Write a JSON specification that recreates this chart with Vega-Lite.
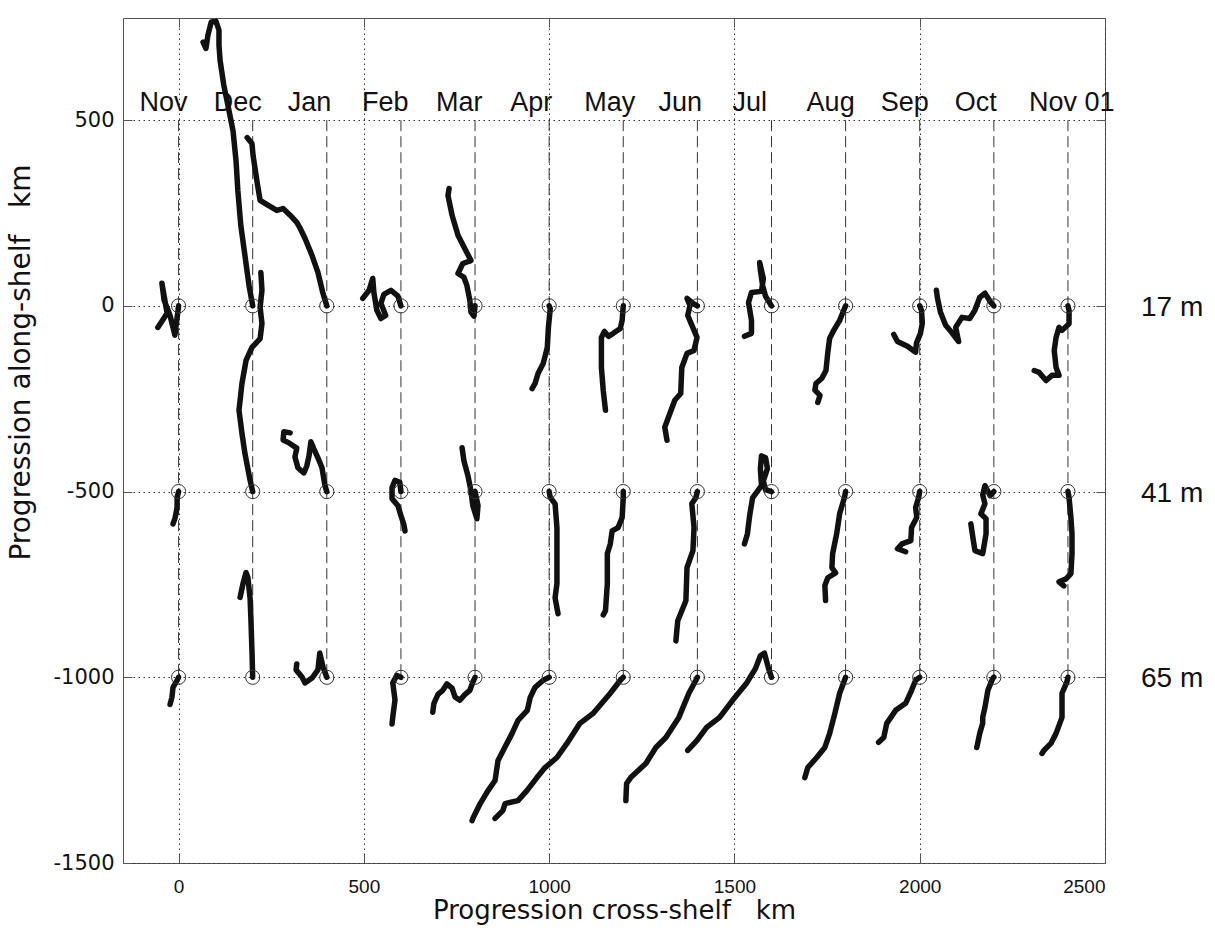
{
  "$schema": "https://vega.github.io/schema/vega-lite/v6.json",
  "width": 982,
  "height": 845,
  "autosize": {"type": "none"},
  "padding": {"left": 123, "top": 18, "right": 110, "bottom": 71},
  "background": "white",
  "config": {
    "view": {"stroke": "#555", "strokeWidth": 1},
    "axis": {"domain": false, "tickColor": "#555", "labelColor": "#111", "titleColor": "#111", "titleFontWeight": "normal"}
  },
  "datasets": {
    "stations": [
      {"m": "Nov", "x": 0, "d": "17 m", "y": 0}, {"m": "Nov", "x": 0, "d": "41 m", "y": -500}, {"m": "Nov", "x": 0, "d": "65 m", "y": -1000},
      {"m": "Dec", "x": 200, "d": "17 m", "y": 0}, {"m": "Dec", "x": 200, "d": "41 m", "y": -500}, {"m": "Dec", "x": 200, "d": "65 m", "y": -1000},
      {"m": "Jan", "x": 400, "d": "17 m", "y": 0}, {"m": "Jan", "x": 400, "d": "41 m", "y": -500}, {"m": "Jan", "x": 400, "d": "65 m", "y": -1000},
      {"m": "Feb", "x": 600, "d": "17 m", "y": 0}, {"m": "Feb", "x": 600, "d": "41 m", "y": -500}, {"m": "Feb", "x": 600, "d": "65 m", "y": -1000},
      {"m": "Mar", "x": 800, "d": "17 m", "y": 0}, {"m": "Mar", "x": 800, "d": "41 m", "y": -500}, {"m": "Mar", "x": 800, "d": "65 m", "y": -1000},
      {"m": "Apr", "x": 1000, "d": "17 m", "y": 0}, {"m": "Apr", "x": 1000, "d": "41 m", "y": -500}, {"m": "Apr", "x": 1000, "d": "65 m", "y": -1000},
      {"m": "May", "x": 1200, "d": "17 m", "y": 0}, {"m": "May", "x": 1200, "d": "41 m", "y": -500}, {"m": "May", "x": 1200, "d": "65 m", "y": -1000},
      {"m": "Jun", "x": 1400, "d": "17 m", "y": 0}, {"m": "Jun", "x": 1400, "d": "41 m", "y": -500}, {"m": "Jun", "x": 1400, "d": "65 m", "y": -1000},
      {"m": "Jul", "x": 1600, "d": "17 m", "y": 0}, {"m": "Jul", "x": 1600, "d": "41 m", "y": -500}, {"m": "Jul", "x": 1600, "d": "65 m", "y": -1000},
      {"m": "Aug", "x": 1800, "d": "17 m", "y": 0}, {"m": "Aug", "x": 1800, "d": "41 m", "y": -500}, {"m": "Aug", "x": 1800, "d": "65 m", "y": -1000},
      {"m": "Sep", "x": 2000, "d": "17 m", "y": 0}, {"m": "Sep", "x": 2000, "d": "41 m", "y": -500}, {"m": "Sep", "x": 2000, "d": "65 m", "y": -1000},
      {"m": "Oct", "x": 2200, "d": "17 m", "y": 0}, {"m": "Oct", "x": 2200, "d": "41 m", "y": -500}, {"m": "Oct", "x": 2200, "d": "65 m", "y": -1000},
      {"m": "Nov 01", "x": 2400, "d": "17 m", "y": 0}, {"m": "Nov 01", "x": 2400, "d": "41 m", "y": -500}, {"m": "Nov 01", "x": 2400, "d": "65 m", "y": -1000}
    ],
    "depths": [
      {"d": "17 m", "y": 0}, {"d": "41 m", "y": -500}, {"d": "65 m", "y": -1000}
    ],
    "tracks": [
      {"t": "Nov-17", "k": 0, "x": 0, "y": 0}, {"t": "Nov-17", "k": 1, "x": -10, "y": -79}, {"t": "Nov-17", "k": 2, "x": -23, "y": -26}, {"t": "Nov-17", "k": 3, "x": -39, "y": 15}, {"t": "Nov-17", "k": 4, "x": -45, "y": 61}, {"t": "Nov-17", "k": 5, "x": -37, "y": 15}, {"t": "Nov-17", "k": 6, "x": -31, "y": -20}, {"t": "Nov-17", "k": 7, "x": -56, "y": -58},

      {"t": "Dec-17", "k": 0, "x": 200, "y": 0}, {"t": "Dec-17", "k": 1, "x": 190, "y": 55}, {"t": "Dec-17", "k": 2, "x": 179, "y": 136}, {"t": "Dec-17", "k": 3, "x": 168, "y": 216}, {"t": "Dec-17", "k": 4, "x": 160, "y": 310}, {"t": "Dec-17", "k": 5, "x": 155, "y": 391}, {"t": "Dec-17", "k": 6, "x": 147, "y": 471}, {"t": "Dec-17", "k": 7, "x": 136, "y": 526}, {"t": "Dec-17", "k": 8, "x": 122, "y": 594}, {"t": "Dec-17", "k": 9, "x": 112, "y": 661}, {"t": "Dec-17", "k": 10, "x": 109, "y": 702}, {"t": "Dec-17", "k": 11, "x": 109, "y": 742}, {"t": "Dec-17", "k": 12, "x": 101, "y": 766}, {"t": "Dec-17", "k": 13, "x": 88, "y": 764}, {"t": "Dec-17", "k": 14, "x": 79, "y": 728}, {"t": "Dec-17", "k": 15, "x": 74, "y": 693}, {"t": "Dec-17", "k": 16, "x": 66, "y": 710},

      {"t": "Jan-17", "k": 0, "x": 400, "y": 0}, {"t": "Jan-17", "k": 1, "x": 389, "y": 36}, {"t": "Jan-17", "k": 2, "x": 376, "y": 90}, {"t": "Jan-17", "k": 3, "x": 360, "y": 136}, {"t": "Jan-17", "k": 4, "x": 341, "y": 182}, {"t": "Jan-17", "k": 5, "x": 328, "y": 209}, {"t": "Jan-17", "k": 6, "x": 319, "y": 225}, {"t": "Jan-17", "k": 7, "x": 301, "y": 244}, {"t": "Jan-17", "k": 8, "x": 282, "y": 262}, {"t": "Jan-17", "k": 9, "x": 265, "y": 257}, {"t": "Jan-17", "k": 10, "x": 241, "y": 271}, {"t": "Jan-17", "k": 11, "x": 220, "y": 284}, {"t": "Jan-17", "k": 12, "x": 212, "y": 332}, {"t": "Jan-17", "k": 13, "x": 201, "y": 405}, {"t": "Jan-17", "k": 14, "x": 198, "y": 437}, {"t": "Jan-17", "k": 15, "x": 185, "y": 453},

      {"t": "Feb-17", "k": 0, "x": 600, "y": 0}, {"t": "Feb-17", "k": 1, "x": 592, "y": 26}, {"t": "Feb-17", "k": 2, "x": 573, "y": 42}, {"t": "Feb-17", "k": 3, "x": 554, "y": 31}, {"t": "Feb-17", "k": 4, "x": 546, "y": 7}, {"t": "Feb-17", "k": 5, "x": 559, "y": -26}, {"t": "Feb-17", "k": 6, "x": 546, "y": -34}, {"t": "Feb-17", "k": 7, "x": 535, "y": -12}, {"t": "Feb-17", "k": 8, "x": 527, "y": 36}, {"t": "Feb-17", "k": 9, "x": 524, "y": 74}, {"t": "Feb-17", "k": 10, "x": 514, "y": 42}, {"t": "Feb-17", "k": 11, "x": 497, "y": 20},

      {"t": "Mar-17", "k": 0, "x": 800, "y": 0}, {"t": "Mar-17", "k": 1, "x": 797, "y": -28}, {"t": "Mar-17", "k": 2, "x": 789, "y": -17}, {"t": "Mar-17", "k": 3, "x": 786, "y": 15}, {"t": "Mar-17", "k": 4, "x": 778, "y": 55}, {"t": "Mar-17", "k": 5, "x": 770, "y": 77}, {"t": "Mar-17", "k": 6, "x": 754, "y": 87}, {"t": "Mar-17", "k": 7, "x": 767, "y": 114}, {"t": "Mar-17", "k": 8, "x": 789, "y": 122}, {"t": "Mar-17", "k": 9, "x": 775, "y": 149}, {"t": "Mar-17", "k": 10, "x": 754, "y": 190}, {"t": "Mar-17", "k": 11, "x": 738, "y": 244}, {"t": "Mar-17", "k": 12, "x": 727, "y": 297}, {"t": "Mar-17", "k": 13, "x": 730, "y": 316},

      {"t": "Apr-17", "k": 0, "x": 1000, "y": 0}, {"t": "Apr-17", "k": 1, "x": 1003, "y": -7}, {"t": "Apr-17", "k": 2, "x": 998, "y": -58}, {"t": "Apr-17", "k": 3, "x": 995, "y": -112}, {"t": "Apr-17", "k": 4, "x": 984, "y": -155}, {"t": "Apr-17", "k": 5, "x": 970, "y": -182}, {"t": "Apr-17", "k": 6, "x": 962, "y": -209}, {"t": "Apr-17", "k": 7, "x": 954, "y": -223},

      {"t": "May-17", "k": 0, "x": 1200, "y": 0}, {"t": "May-17", "k": 1, "x": 1197, "y": -39}, {"t": "May-17", "k": 2, "x": 1192, "y": -61}, {"t": "May-17", "k": 3, "x": 1173, "y": -74}, {"t": "May-17", "k": 4, "x": 1160, "y": -82}, {"t": "May-17", "k": 5, "x": 1149, "y": -69}, {"t": "May-17", "k": 6, "x": 1141, "y": -85}, {"t": "May-17", "k": 7, "x": 1141, "y": -166}, {"t": "May-17", "k": 8, "x": 1146, "y": -228}, {"t": "May-17", "k": 9, "x": 1152, "y": -281},

      {"t": "Jun-17", "k": 0, "x": 1400, "y": 0}, {"t": "Jun-17", "k": 1, "x": 1388, "y": 7}, {"t": "Jun-17", "k": 2, "x": 1372, "y": 20}, {"t": "Jun-17", "k": 3, "x": 1380, "y": 1}, {"t": "Jun-17", "k": 4, "x": 1374, "y": -26}, {"t": "Jun-17", "k": 5, "x": 1385, "y": -52}, {"t": "Jun-17", "k": 6, "x": 1399, "y": -85}, {"t": "Jun-17", "k": 7, "x": 1391, "y": -120}, {"t": "Jun-17", "k": 8, "x": 1372, "y": -128}, {"t": "Jun-17", "k": 9, "x": 1358, "y": -166}, {"t": "Jun-17", "k": 10, "x": 1355, "y": -236}, {"t": "Jun-17", "k": 11, "x": 1339, "y": -254}, {"t": "Jun-17", "k": 12, "x": 1326, "y": -289}, {"t": "Jun-17", "k": 13, "x": 1312, "y": -327}, {"t": "Jun-17", "k": 14, "x": 1318, "y": -362},

      {"t": "Jul-17", "k": 0, "x": 1600, "y": 0}, {"t": "Jul-17", "k": 1, "x": 1584, "y": 26}, {"t": "Jul-17", "k": 2, "x": 1576, "y": 55}, {"t": "Jul-17", "k": 3, "x": 1570, "y": 96}, {"t": "Jul-17", "k": 4, "x": 1568, "y": 117}, {"t": "Jul-17", "k": 5, "x": 1578, "y": 74}, {"t": "Jul-17", "k": 6, "x": 1573, "y": 39}, {"t": "Jul-17", "k": 7, "x": 1546, "y": 36}, {"t": "Jul-17", "k": 8, "x": 1538, "y": 9}, {"t": "Jul-17", "k": 9, "x": 1546, "y": -39}, {"t": "Jul-17", "k": 10, "x": 1546, "y": -74}, {"t": "Jul-17", "k": 11, "x": 1527, "y": -82},

      {"t": "Aug-17", "k": 0, "x": 1800, "y": 0}, {"t": "Aug-17", "k": 1, "x": 1795, "y": -12}, {"t": "Aug-17", "k": 2, "x": 1784, "y": -39}, {"t": "Aug-17", "k": 3, "x": 1768, "y": -66}, {"t": "Aug-17", "k": 4, "x": 1757, "y": -87}, {"t": "Aug-17", "k": 5, "x": 1752, "y": -125}, {"t": "Aug-17", "k": 6, "x": 1747, "y": -174}, {"t": "Aug-17", "k": 7, "x": 1736, "y": -195}, {"t": "Aug-17", "k": 8, "x": 1720, "y": -209}, {"t": "Aug-17", "k": 9, "x": 1717, "y": -227}, {"t": "Aug-17", "k": 10, "x": 1731, "y": -241}, {"t": "Aug-17", "k": 11, "x": 1725, "y": -260},

      {"t": "Sep-17", "k": 0, "x": 2000, "y": 0}, {"t": "Sep-17", "k": 1, "x": 2005, "y": -13}, {"t": "Sep-17", "k": 2, "x": 2007, "y": -47}, {"t": "Sep-17", "k": 3, "x": 2002, "y": -74}, {"t": "Sep-17", "k": 4, "x": 1991, "y": -101}, {"t": "Sep-17", "k": 5, "x": 1989, "y": -125}, {"t": "Sep-17", "k": 6, "x": 1967, "y": -109}, {"t": "Sep-17", "k": 7, "x": 1940, "y": -96}, {"t": "Sep-17", "k": 8, "x": 1930, "y": -77},

      {"t": "Oct-17", "k": 0, "x": 2200, "y": 0}, {"t": "Oct-17", "k": 1, "x": 2192, "y": 9}, {"t": "Oct-17", "k": 2, "x": 2176, "y": 34}, {"t": "Oct-17", "k": 3, "x": 2162, "y": 23}, {"t": "Oct-17", "k": 4, "x": 2149, "y": -12}, {"t": "Oct-17", "k": 5, "x": 2135, "y": -34}, {"t": "Oct-17", "k": 6, "x": 2114, "y": -31}, {"t": "Oct-17", "k": 7, "x": 2097, "y": -58}, {"t": "Oct-17", "k": 8, "x": 2105, "y": -96}, {"t": "Oct-17", "k": 9, "x": 2086, "y": -71}, {"t": "Oct-17", "k": 10, "x": 2070, "y": -52}, {"t": "Oct-17", "k": 11, "x": 2056, "y": -17}, {"t": "Oct-17", "k": 12, "x": 2048, "y": 20}, {"t": "Oct-17", "k": 13, "x": 2045, "y": 42},

      {"t": "Nov01-17", "k": 0, "x": 2400, "y": 0}, {"t": "Nov01-17", "k": 1, "x": 2403, "y": -12}, {"t": "Nov01-17", "k": 2, "x": 2403, "y": -48}, {"t": "Nov01-17", "k": 3, "x": 2384, "y": -66}, {"t": "Nov01-17", "k": 4, "x": 2376, "y": -58}, {"t": "Nov01-17", "k": 5, "x": 2368, "y": -85}, {"t": "Nov01-17", "k": 6, "x": 2363, "y": -120}, {"t": "Nov01-17", "k": 7, "x": 2368, "y": -166}, {"t": "Nov01-17", "k": 8, "x": 2376, "y": -187}, {"t": "Nov01-17", "k": 9, "x": 2357, "y": -187}, {"t": "Nov01-17", "k": 10, "x": 2341, "y": -201}, {"t": "Nov01-17", "k": 11, "x": 2322, "y": -179}, {"t": "Nov01-17", "k": 12, "x": 2309, "y": -174},

      {"t": "Nov-41", "k": 0, "x": 0, "y": -500}, {"t": "Nov-41", "k": 1, "x": -4, "y": -516}, {"t": "Nov-41", "k": 2, "x": -4, "y": -543}, {"t": "Nov-41", "k": 3, "x": -10, "y": -573}, {"t": "Nov-41", "k": 4, "x": -15, "y": -587},

      {"t": "Dec-41", "k": 0, "x": 200, "y": -500}, {"t": "Dec-41", "k": 1, "x": 193, "y": -470}, {"t": "Dec-41", "k": 2, "x": 179, "y": -397}, {"t": "Dec-41", "k": 3, "x": 171, "y": -343}, {"t": "Dec-41", "k": 4, "x": 163, "y": -281}, {"t": "Dec-41", "k": 5, "x": 171, "y": -209}, {"t": "Dec-41", "k": 6, "x": 182, "y": -147}, {"t": "Dec-41", "k": 7, "x": 198, "y": -112}, {"t": "Dec-41", "k": 8, "x": 220, "y": -88}, {"t": "Dec-41", "k": 9, "x": 225, "y": -47}, {"t": "Dec-41", "k": 10, "x": 220, "y": -4}, {"t": "Dec-41", "k": 11, "x": 225, "y": 42}, {"t": "Dec-41", "k": 12, "x": 222, "y": 90},

      {"t": "Jan-41", "k": 0, "x": 400, "y": -500}, {"t": "Jan-41", "k": 1, "x": 395, "y": -484}, {"t": "Jan-41", "k": 2, "x": 387, "y": -436}, {"t": "Jan-41", "k": 3, "x": 376, "y": -409}, {"t": "Jan-41", "k": 4, "x": 365, "y": -385}, {"t": "Jan-41", "k": 5, "x": 357, "y": -366}, {"t": "Jan-41", "k": 6, "x": 352, "y": -404}, {"t": "Jan-41", "k": 7, "x": 346, "y": -431}, {"t": "Jan-41", "k": 8, "x": 338, "y": -450}, {"t": "Jan-41", "k": 9, "x": 322, "y": -436}, {"t": "Jan-41", "k": 10, "x": 314, "y": -407}, {"t": "Jan-41", "k": 11, "x": 319, "y": -383}, {"t": "Jan-41", "k": 12, "x": 298, "y": -369}, {"t": "Jan-41", "k": 13, "x": 282, "y": -361}, {"t": "Jan-41", "k": 14, "x": 284, "y": -339}, {"t": "Jan-41", "k": 15, "x": 301, "y": -342},

      {"t": "Feb-41", "k": 0, "x": 600, "y": -500}, {"t": "Feb-41", "k": 1, "x": 597, "y": -475}, {"t": "Feb-41", "k": 2, "x": 584, "y": -470}, {"t": "Feb-41", "k": 3, "x": 576, "y": -489}, {"t": "Feb-41", "k": 4, "x": 576, "y": -519}, {"t": "Feb-41", "k": 5, "x": 592, "y": -538}, {"t": "Feb-41", "k": 6, "x": 600, "y": -565}, {"t": "Feb-41", "k": 7, "x": 608, "y": -589}, {"t": "Feb-41", "k": 8, "x": 611, "y": -606},

      {"t": "Mar-41", "k": 0, "x": 800, "y": -500}, {"t": "Mar-41", "k": 1, "x": 808, "y": -538}, {"t": "Mar-41", "k": 2, "x": 805, "y": -573}, {"t": "Mar-41", "k": 3, "x": 794, "y": -538}, {"t": "Mar-41", "k": 4, "x": 789, "y": -498}, {"t": "Mar-41", "k": 5, "x": 781, "y": -458}, {"t": "Mar-41", "k": 6, "x": 770, "y": -417}, {"t": "Mar-41", "k": 7, "x": 765, "y": -382},

      {"t": "Apr-41", "k": 0, "x": 1000, "y": -500}, {"t": "Apr-41", "k": 1, "x": 1003, "y": -516}, {"t": "Apr-41", "k": 2, "x": 1016, "y": -533}, {"t": "Apr-41", "k": 3, "x": 1021, "y": -597}, {"t": "Apr-41", "k": 4, "x": 1021, "y": -667}, {"t": "Apr-41", "k": 5, "x": 1021, "y": -748}, {"t": "Apr-41", "k": 6, "x": 1016, "y": -786}, {"t": "Apr-41", "k": 7, "x": 1024, "y": -829},

      {"t": "May-41", "k": 0, "x": 1200, "y": -500}, {"t": "May-41", "k": 1, "x": 1200, "y": -516}, {"t": "May-41", "k": 2, "x": 1197, "y": -570}, {"t": "May-41", "k": 3, "x": 1186, "y": -597}, {"t": "May-41", "k": 4, "x": 1170, "y": -606}, {"t": "May-41", "k": 5, "x": 1165, "y": -641}, {"t": "May-41", "k": 6, "x": 1157, "y": -667}, {"t": "May-41", "k": 7, "x": 1157, "y": -748}, {"t": "May-41", "k": 8, "x": 1152, "y": -821}, {"t": "May-41", "k": 9, "x": 1146, "y": -832},

      {"t": "Jun-41", "k": 0, "x": 1400, "y": -500}, {"t": "Jun-41", "k": 1, "x": 1396, "y": -516}, {"t": "Jun-41", "k": 2, "x": 1385, "y": -533}, {"t": "Jun-41", "k": 3, "x": 1391, "y": -597}, {"t": "Jun-41", "k": 4, "x": 1388, "y": -659}, {"t": "Jun-41", "k": 5, "x": 1372, "y": -705}, {"t": "Jun-41", "k": 6, "x": 1369, "y": -794}, {"t": "Jun-41", "k": 7, "x": 1347, "y": -848}, {"t": "Jun-41", "k": 8, "x": 1342, "y": -902},

      {"t": "Jul-41", "k": 0, "x": 1600, "y": -500}, {"t": "Jul-41", "k": 1, "x": 1584, "y": -495}, {"t": "Jul-41", "k": 2, "x": 1578, "y": -471}, {"t": "Jul-41", "k": 3, "x": 1589, "y": -438}, {"t": "Jul-41", "k": 4, "x": 1584, "y": -409}, {"t": "Jul-41", "k": 5, "x": 1573, "y": -404}, {"t": "Jul-41", "k": 6, "x": 1570, "y": -438}, {"t": "Jul-41", "k": 7, "x": 1573, "y": -484}, {"t": "Jul-41", "k": 8, "x": 1549, "y": -517}, {"t": "Jul-41", "k": 9, "x": 1541, "y": -565}, {"t": "Jul-41", "k": 10, "x": 1535, "y": -614}, {"t": "Jul-41", "k": 11, "x": 1527, "y": -641},

      {"t": "Aug-41", "k": 0, "x": 1800, "y": -500}, {"t": "Aug-41", "k": 1, "x": 1797, "y": -516}, {"t": "Aug-41", "k": 2, "x": 1784, "y": -559}, {"t": "Aug-41", "k": 3, "x": 1776, "y": -613}, {"t": "Aug-41", "k": 4, "x": 1765, "y": -667}, {"t": "Aug-41", "k": 5, "x": 1763, "y": -705}, {"t": "Aug-41", "k": 6, "x": 1773, "y": -719}, {"t": "Aug-41", "k": 7, "x": 1752, "y": -732}, {"t": "Aug-41", "k": 8, "x": 1744, "y": -753}, {"t": "Aug-41", "k": 9, "x": 1746, "y": -793},

      {"t": "Sep-41", "k": 0, "x": 2000, "y": -500}, {"t": "Sep-41", "k": 1, "x": 1997, "y": -516}, {"t": "Sep-41", "k": 2, "x": 1989, "y": -543}, {"t": "Sep-41", "k": 3, "x": 1992, "y": -570}, {"t": "Sep-41", "k": 4, "x": 1978, "y": -597}, {"t": "Sep-41", "k": 5, "x": 1976, "y": -632}, {"t": "Sep-41", "k": 6, "x": 1952, "y": -641}, {"t": "Sep-41", "k": 7, "x": 1940, "y": -654}, {"t": "Sep-41", "k": 8, "x": 1962, "y": -662},

      {"t": "Oct-41", "k": 0, "x": 2200, "y": -500}, {"t": "Oct-41", "k": 1, "x": 2190, "y": -511}, {"t": "Oct-41", "k": 2, "x": 2176, "y": -484}, {"t": "Oct-41", "k": 3, "x": 2170, "y": -509}, {"t": "Oct-41", "k": 4, "x": 2176, "y": -533}, {"t": "Oct-41", "k": 5, "x": 2165, "y": -560}, {"t": "Oct-41", "k": 6, "x": 2179, "y": -573}, {"t": "Oct-41", "k": 7, "x": 2179, "y": -614}, {"t": "Oct-41", "k": 8, "x": 2170, "y": -667}, {"t": "Oct-41", "k": 9, "x": 2149, "y": -659}, {"t": "Oct-41", "k": 10, "x": 2144, "y": -627}, {"t": "Oct-41", "k": 11, "x": 2138, "y": -587},

      {"t": "Nov01-41", "k": 0, "x": 2400, "y": -500}, {"t": "Nov01-41", "k": 1, "x": 2403, "y": -516}, {"t": "Nov01-41", "k": 2, "x": 2408, "y": -570}, {"t": "Nov01-41", "k": 3, "x": 2411, "y": -614}, {"t": "Nov01-41", "k": 4, "x": 2411, "y": -667}, {"t": "Nov01-41", "k": 5, "x": 2408, "y": -721}, {"t": "Nov01-41", "k": 6, "x": 2395, "y": -735}, {"t": "Nov01-41", "k": 7, "x": 2376, "y": -743}, {"t": "Nov01-41", "k": 8, "x": 2389, "y": -754},

      {"t": "Nov-65", "k": 0, "x": 0, "y": -1000}, {"t": "Nov-65", "k": 1, "x": -4, "y": -1008}, {"t": "Nov-65", "k": 2, "x": -15, "y": -1027}, {"t": "Nov-65", "k": 3, "x": -18, "y": -1054}, {"t": "Nov-65", "k": 4, "x": -23, "y": -1073},

      {"t": "Dec-65", "k": 0, "x": 200, "y": -1000}, {"t": "Dec-65", "k": 1, "x": 198, "y": -928}, {"t": "Dec-65", "k": 2, "x": 195, "y": -839}, {"t": "Dec-65", "k": 3, "x": 193, "y": -788}, {"t": "Dec-65", "k": 4, "x": 187, "y": -731}, {"t": "Dec-65", "k": 5, "x": 182, "y": -718}, {"t": "Dec-65", "k": 6, "x": 174, "y": -747}, {"t": "Dec-65", "k": 7, "x": 166, "y": -785},

      {"t": "Jan-65", "k": 0, "x": 400, "y": -1000}, {"t": "Jan-65", "k": 1, "x": 390, "y": -973}, {"t": "Jan-65", "k": 2, "x": 381, "y": -935}, {"t": "Jan-65", "k": 3, "x": 376, "y": -980}, {"t": "Jan-65", "k": 4, "x": 360, "y": -1002}, {"t": "Jan-65", "k": 5, "x": 341, "y": -1015}, {"t": "Jan-65", "k": 6, "x": 333, "y": -999}, {"t": "Jan-65", "k": 7, "x": 317, "y": -980}, {"t": "Jan-65", "k": 8, "x": 319, "y": -964},

      {"t": "Feb-65", "k": 0, "x": 600, "y": -1000}, {"t": "Feb-65", "k": 1, "x": 589, "y": -995}, {"t": "Feb-65", "k": 2, "x": 578, "y": -1015}, {"t": "Feb-65", "k": 3, "x": 584, "y": -1061}, {"t": "Feb-65", "k": 4, "x": 578, "y": -1107}, {"t": "Feb-65", "k": 5, "x": 576, "y": -1126},

      {"t": "Mar-65", "k": 0, "x": 800, "y": -1000}, {"t": "Mar-65", "k": 1, "x": 794, "y": -1013}, {"t": "Mar-65", "k": 2, "x": 786, "y": -1035}, {"t": "Mar-65", "k": 3, "x": 773, "y": -1046}, {"t": "Mar-65", "k": 4, "x": 759, "y": -1062}, {"t": "Mar-65", "k": 5, "x": 746, "y": -1053}, {"t": "Mar-65", "k": 6, "x": 738, "y": -1029}, {"t": "Mar-65", "k": 7, "x": 724, "y": -1018}, {"t": "Mar-65", "k": 8, "x": 713, "y": -1035}, {"t": "Mar-65", "k": 9, "x": 700, "y": -1046}, {"t": "Mar-65", "k": 10, "x": 689, "y": -1070}, {"t": "Mar-65", "k": 11, "x": 686, "y": -1094},

      {"t": "Apr-65", "k": 0, "x": 1000, "y": -1000}, {"t": "Apr-65", "k": 1, "x": 984, "y": -1008}, {"t": "Apr-65", "k": 2, "x": 962, "y": -1027}, {"t": "Apr-65", "k": 3, "x": 949, "y": -1054}, {"t": "Apr-65", "k": 4, "x": 941, "y": -1089}, {"t": "Apr-65", "k": 5, "x": 916, "y": -1116}, {"t": "Apr-65", "k": 6, "x": 900, "y": -1151}, {"t": "Apr-65", "k": 7, "x": 876, "y": -1197}, {"t": "Apr-65", "k": 8, "x": 862, "y": -1224}, {"t": "Apr-65", "k": 9, "x": 854, "y": -1278}, {"t": "Apr-65", "k": 10, "x": 835, "y": -1305}, {"t": "Apr-65", "k": 11, "x": 814, "y": -1340}, {"t": "Apr-65", "k": 12, "x": 795, "y": -1378}, {"t": "Apr-65", "k": 13, "x": 792, "y": -1386},

      {"t": "May-65", "k": 0, "x": 1200, "y": -1000}, {"t": "May-65", "k": 1, "x": 1192, "y": -1008}, {"t": "May-65", "k": 2, "x": 1165, "y": -1043}, {"t": "May-65", "k": 3, "x": 1119, "y": -1097}, {"t": "May-65", "k": 4, "x": 1083, "y": -1124}, {"t": "May-65", "k": 5, "x": 1048, "y": -1178}, {"t": "May-65", "k": 6, "x": 1021, "y": -1216}, {"t": "May-65", "k": 7, "x": 989, "y": -1243}, {"t": "May-65", "k": 8, "x": 967, "y": -1270}, {"t": "May-65", "k": 9, "x": 940, "y": -1305}, {"t": "May-65", "k": 10, "x": 916, "y": -1332}, {"t": "May-65", "k": 11, "x": 881, "y": -1340}, {"t": "May-65", "k": 12, "x": 875, "y": -1359}, {"t": "May-65", "k": 13, "x": 854, "y": -1380},

      {"t": "Jun-65", "k": 0, "x": 1400, "y": -1000}, {"t": "Jun-65", "k": 1, "x": 1396, "y": -1008}, {"t": "Jun-65", "k": 2, "x": 1377, "y": -1043}, {"t": "Jun-65", "k": 3, "x": 1350, "y": -1108}, {"t": "Jun-65", "k": 4, "x": 1315, "y": -1162}, {"t": "Jun-65", "k": 5, "x": 1288, "y": -1189}, {"t": "Jun-65", "k": 6, "x": 1261, "y": -1232}, {"t": "Jun-65", "k": 7, "x": 1220, "y": -1270}, {"t": "Jun-65", "k": 8, "x": 1209, "y": -1286}, {"t": "Jun-65", "k": 9, "x": 1207, "y": -1332},

      {"t": "Jul-65", "k": 0, "x": 1600, "y": -1000}, {"t": "Jul-65", "k": 1, "x": 1592, "y": -976}, {"t": "Jul-65", "k": 2, "x": 1581, "y": -935}, {"t": "Jul-65", "k": 3, "x": 1570, "y": -942}, {"t": "Jul-65", "k": 4, "x": 1557, "y": -976}, {"t": "Jul-65", "k": 5, "x": 1532, "y": -1017}, {"t": "Jul-65", "k": 6, "x": 1495, "y": -1062}, {"t": "Jul-65", "k": 7, "x": 1460, "y": -1108}, {"t": "Jul-65", "k": 8, "x": 1425, "y": -1135}, {"t": "Jul-65", "k": 9, "x": 1399, "y": -1170}, {"t": "Jul-65", "k": 10, "x": 1374, "y": -1197},

      {"t": "Aug-65", "k": 0, "x": 1800, "y": -1000}, {"t": "Aug-65", "k": 1, "x": 1797, "y": -1008}, {"t": "Aug-65", "k": 2, "x": 1784, "y": -1043}, {"t": "Aug-65", "k": 3, "x": 1771, "y": -1097}, {"t": "Aug-65", "k": 4, "x": 1757, "y": -1151}, {"t": "Aug-65", "k": 5, "x": 1744, "y": -1189}, {"t": "Aug-65", "k": 6, "x": 1722, "y": -1216}, {"t": "Aug-65", "k": 7, "x": 1698, "y": -1243}, {"t": "Aug-65", "k": 8, "x": 1690, "y": -1270},

      {"t": "Sep-65", "k": 0, "x": 2000, "y": -1000}, {"t": "Sep-65", "k": 1, "x": 1989, "y": -1008}, {"t": "Sep-65", "k": 2, "x": 1978, "y": -1035}, {"t": "Sep-65", "k": 3, "x": 1962, "y": -1070}, {"t": "Sep-65", "k": 4, "x": 1935, "y": -1089}, {"t": "Sep-65", "k": 5, "x": 1911, "y": -1124}, {"t": "Sep-65", "k": 6, "x": 1903, "y": -1162}, {"t": "Sep-65", "k": 7, "x": 1889, "y": -1175},

      {"t": "Oct-65", "k": 0, "x": 2200, "y": -1000}, {"t": "Oct-65", "k": 1, "x": 2197, "y": -1003}, {"t": "Oct-65", "k": 2, "x": 2184, "y": -1035}, {"t": "Oct-65", "k": 3, "x": 2176, "y": -1081}, {"t": "Oct-65", "k": 4, "x": 2170, "y": -1108}, {"t": "Oct-65", "k": 5, "x": 2170, "y": -1124}, {"t": "Oct-65", "k": 6, "x": 2162, "y": -1151}, {"t": "Oct-65", "k": 7, "x": 2154, "y": -1189},

      {"t": "Nov01-65", "k": 0, "x": 2400, "y": -1000}, {"t": "Nov01-65", "k": 1, "x": 2397, "y": -1013}, {"t": "Nov01-65", "k": 2, "x": 2384, "y": -1043}, {"t": "Nov01-65", "k": 3, "x": 2384, "y": -1108}, {"t": "Nov01-65", "k": 4, "x": 2368, "y": -1151}, {"t": "Nov01-65", "k": 5, "x": 2354, "y": -1178}, {"t": "Nov01-65", "k": 6, "x": 2335, "y": -1197}, {"t": "Nov01-65", "k": 7, "x": 2330, "y": -1205}
    ]
  },
  "layer": [
    {
      "data": {"name": "stations"},
      "transform": [{"filter": "datum.d === '17 m'"}],
      "mark": {"type": "rule", "stroke": "#333", "strokeWidth": 1, "strokeDash": [11, 5]},
      "encoding": {
        "x": {
          "field": "x", "type": "quantitative",
          "scale": {"domain": [-150, 2500], "nice": false, "zero": false},
          "axis": {
            "orient": "bottom",
            "values": [0, 500, 1000, 1500, 2000, 2500],
            "labelExpr": "'' + datum.value",
            "title": "Progression cross-shelf\u00a0\u00a0\u00a0km",
            "titleFont": "DejaVu Sans", "titleFontSize": 26,
            "titleBaseline": "alphabetic", "titleY": 55,
            "labelFont": "Liberation Sans", "labelFontSize": 19,
            "labelBaseline": "alphabetic",
            "tickSize": -9, "labelPadding": 38,
            "grid": true, "gridColor": "#333", "gridDash": [1.5, 3.5], "gridWidth": 1, "gridOpacity": 1
          }
        },
        "y": {
          "datum": 500, "type": "quantitative",
          "scale": {"domain": [-1500, 775], "nice": false, "zero": false},
          "axis": {
            "orient": "left",
            "values": [-1500, -1000, -500, 0, 500],
            "labelExpr": "'' + datum.value",
            "title": "Progression along-shelf\u00a0\u00a0\u00a0km",
            "titleFont": "DejaVu Sans", "titleFontSize": 28,
            "titleAngle": -90, "titleAlign": "center", "titleBaseline": "alphabetic",
            "titleX": -94, "titleY": 344,
            "labelFont": "DejaVu Sans", "labelFontSize": 21,
            "labelBaseline": "middle",
            "tickSize": -9, "labelPadding": 18,
            "grid": true, "gridColor": "#333", "gridDash": [1.5, 3.5], "gridWidth": 1, "gridOpacity": 1
          }
        },
        "y2": {"datum": -1000}
      }
    },
    {
      "data": {"name": "tracks"},
      "mark": {"type": "line", "stroke": "#111", "strokeWidth": 5.5, "strokeJoin": "round", "strokeCap": "round"},
      "encoding": {
        "x": {"field": "x", "type": "quantitative", "axis": null},
        "y": {"field": "y", "type": "quantitative", "axis": null},
        "detail": {"field": "t"},
        "order": {"field": "k", "type": "quantitative"}
      }
    },
    {
      "data": {"name": "stations"},
      "mark": {"type": "point", "shape": "circle", "filled": false, "size": 200, "stroke": "#333", "strokeWidth": 1, "opacity": 1},
      "encoding": {
        "x": {"field": "x", "type": "quantitative", "axis": null},
        "y": {"field": "y", "type": "quantitative", "axis": null}
      }
    },
    {
      "data": {"name": "stations"},
      "transform": [{"filter": "datum.d === '17 m'"}],
      "mark": {"type": "text", "font": "Liberation Sans", "fontSize": 27, "align": "left", "baseline": "alphabetic", "dx": -39, "dy": -9, "color": "#111"},
      "encoding": {
        "x": {"field": "x", "type": "quantitative", "axis": null},
        "y": {"datum": 500, "type": "quantitative", "axis": null},
        "text": {"field": "m"}
      }
    },
    {
      "data": {"name": "depths"},
      "mark": {"type": "text", "font": "Liberation Sans", "fontSize": 28, "align": "left", "baseline": "alphabetic", "dx": 36, "dy": 10, "color": "#111"},
      "encoding": {
        "x": {
          "datum": 2500, "type": "quantitative",
          "axis": {"orient": "top", "values": [0, 500, 1000, 1500, 2000, 2500], "labels": false, "title": null, "grid": false, "tickSize": -9}
        },
        "y": {
          "field": "y", "type": "quantitative",
          "axis": {"orient": "right", "values": [-1500, -1000, -500, 0, 500], "labels": false, "title": null, "grid": false, "tickSize": -9}
        },
        "text": {"field": "d"}
      }
    }
  ],
  "resolve": {"axis": {"x": "independent", "y": "independent"}}
}
